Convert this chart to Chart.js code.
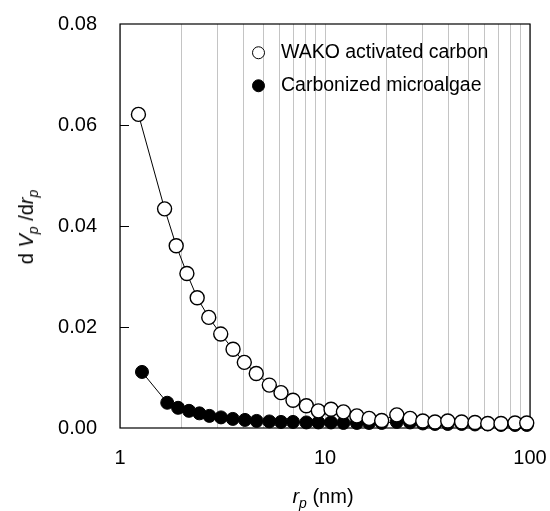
<!DOCTYPE html>
<html>
<head>
    <title>Pore size distribution</title>
    <script src="https://cdn.jsdelivr.net/npm/chart.js"></script>
    <style>
        body {
            margin: 0;
            background: #fff;
            font-family: "Liberation Sans", Arial, sans-serif;
        }

        #wrap {
            position: relative;
            width: 550px;
            height: 511px;
        }

        canvas {
            position: absolute;
            left: 0;
            top: 0;
        }

        .txt {
            position: absolute;
            color: #000;
            white-space: nowrap;
            font-size: 20px;
            line-height: 1;
        }

        .txt sub {
            font-size: 14px;
            vertical-align: -5px;
            line-height: 0;
        }

        #ytitle {
            left: 26px;
            top: 227px;
            transform: translate(-50%, -50%) rotate(-90deg);
        }

        #xtitle {
            left: 323px;
            top: 496px;
            transform: translate(-50%, -50%);
        }

        .leg {
            position: absolute;
            left: 252px;
            font-size: 19.5px;
            line-height: 1;
            white-space: nowrap;
            transform: translateY(-50%);
        }

        .leg span.dot {
            display: inline-block;
            width: 11px;
            height: 11px;
            border: 1.5px solid #000;
            border-radius: 50%;
            margin-right: 16px;
            vertical-align: -1px;
        }
    </style>
</head>
<body>
<div id="wrap">
    <canvas id="psd" width="550" height="511"></canvas>
    <div class="txt" id="ytitle">d <i>V</i><sub><i>p</i></sub> /d<i>r</i><sub><i>p</i></sub></div>
    <div class="txt" id="xtitle"><i>r</i><sub><i>p</i></sub> (nm)</div>
    <div class="leg" style="top:52px"><span class="dot" style="background:#fff"></span>WAKO activated carbon</div>
    <div class="leg" style="top:85px"><span class="dot" style="background:#000"></span>Carbonized microalgae</div>
</div>

<script>
    // pore radius (nm) and dV/dr values
    const wakoR = [1.23, 1.65, 1.88, 2.12, 2.38, 2.71, 3.10, 3.56, 4.04, 4.62, 5.35, 6.10, 6.98, 8.11, 9.28,
                   10.7, 12.3, 14.3, 16.4, 18.9, 22.4, 26.0, 30.0, 34.4, 39.7, 46.4, 53.9, 62.2, 72.2, 84.5, 96.4];
    const wakoDV = [0.0621, 0.0434, 0.0361, 0.0306, 0.0258, 0.0219, 0.0186, 0.0156, 0.0130, 0.0108, 0.0085, 0.0070, 0.0055, 0.0044, 0.0034,
                    0.0037, 0.0032, 0.0024, 0.0019, 0.0015, 0.0026, 0.0019, 0.0014, 0.0012, 0.0014, 0.0012, 0.0011, 0.0009, 0.0009, 0.0010, 0.0010];

    const algaeR = [1.28, 1.70, 1.92, 2.17, 2.44, 2.73, 3.11, 3.55, 4.07, 4.64, 5.35, 6.10, 6.98, 8.11, 9.28,
                    10.7, 12.3, 14.3, 16.4, 18.9, 22.4, 26.0, 30.0, 34.4, 39.7, 46.4, 53.9, 62.2, 72.2, 84.5, 96.4];
    const algaeDV = [0.0111, 0.0050, 0.0040, 0.0034, 0.0029, 0.0024, 0.0021, 0.0018, 0.0016, 0.0014, 0.0013, 0.0012, 0.0012, 0.0011, 0.0011,
                     0.0011, 0.0010, 0.0010, 0.0010, 0.0010, 0.0012, 0.0011, 0.0009, 0.0008, 0.0008, 0.0008, 0.0007, 0.0007, 0.0006, 0.0006, 0.0006];

    const xGrid = [1, 2, 3, 4, 5, 6, 7, 8, 9, 10, 20, 30, 40, 50, 60, 70, 80, 90, 100];
    const xLabels = [1, 10, 100];
    const yTicks = [0, 0.02, 0.04, 0.06, 0.08];

    const FONT = '"Liberation Sans", Arial, sans-serif';

    // frame around the plot + short inward ticks on the left axis
    const framePlugin = {
        id: 'frame',
        beforeDatasetsDraw(chart) {
            const { ctx, chartArea: a, scales } = chart;
            ctx.save();
            ctx.strokeStyle = '#000';
            ctx.lineWidth = 1.2;
            ctx.strokeRect(a.left, a.top, a.right - a.left, a.bottom - a.top);
            ctx.lineWidth = 1;
            yTicks.slice(1, -1).forEach(v => {
                const y = Math.round(scales.y.getPixelForValue(v)) + 0.5;
                ctx.beginPath();
                ctx.moveTo(a.left, y);
                ctx.lineTo(a.left + 9, y);
                ctx.stroke();
            });
            ctx.restore();
        }
    };

    // fixed axis sizes, no extra room asked for the edge labels
    const fixSize = size => s => {
        if (s.isHorizontal()) s.height = size; else s.width = size;
        s.paddingTop = s.paddingBottom = s.paddingLeft = s.paddingRight = 0;
    };

    const pts = (xs, ys) => xs.map((x, i) => ({ x: x, y: ys[i] }));

    new Chart(document.getElementById('psd'), {
        type: 'scatter',
        data: {
            datasets: [{
                label: 'WAKO activated carbon',
                data: pts(wakoR, wakoDV),
                showLine: true,
                borderColor: '#000',
                borderWidth: 1,
                pointRadius: 7,
                pointBackgroundColor: '#fff',
                pointBorderColor: '#000',
                pointBorderWidth: 1.4,
                clip: false
            }, {
                label: 'Carbonized microalgae',
                data: pts(algaeR, algaeDV),
                showLine: true,
                borderColor: '#000',
                borderWidth: 1,
                pointRadius: 6.5,
                pointBackgroundColor: '#000',
                pointBorderColor: '#000',
                pointBorderWidth: 1,
                clip: false
            }]
        },
        options: {
            responsive: false,
            animation: false,
            layout: { padding: { left: 0, right: 20, top: 24, bottom: 0 } },
            plugins: {
                legend: { display: false },
                tooltip: { enabled: false }
            },
            scales: {
                x: {
                    type: 'logarithmic',
                    min: 1,
                    max: 100,
                    afterFit: fixSize(83),
                    afterBuildTicks: s => { s.ticks = xGrid.map(v => ({ value: v })); },
                    grid: { color: '#c4c4c4', lineWidth: 1, drawTicks: false },
                    border: { display: false },
                    ticks: {
                        autoSkip: false,
                        maxRotation: 0,
                        padding: 18,
                        color: '#000',
                        font: { size: 20, family: FONT },
                        callback: v => xLabels.includes(v) ? String(v) : ''
                    }
                },
                y: {
                    min: 0,
                    max: 0.08,
                    afterFit: fixSize(120),
                    afterBuildTicks: s => { s.ticks = yTicks.map(v => ({ value: v })); },
                    grid: { display: false, drawTicks: false },
                    border: { display: false },
                    ticks: {
                        padding: 23,
                        color: '#000',
                        font: { size: 20, family: FONT },
                        callback: v => v.toFixed(2)
                    }
                }
            }
        },
        plugins: [framePlugin]
    });
</script>
</body>
</html>
